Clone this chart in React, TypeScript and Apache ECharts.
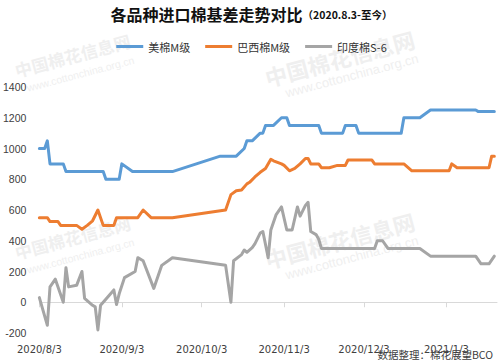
import React, { useEffect, useRef } from 'react';
import * as echarts from 'echarts';

// ---- data ----
const usDates = ['2020/8/3','2020/8/5','2020/8/6','2020/8/7','2020/8/12','2020/8/13','2020/8/27','2020/8/28','2020/9/2','2020/9/3','2020/9/7','2020/9/22','2020/10/10','2020/10/16','2020/10/19','2020/10/20','2020/10/22','2020/10/25','2020/10/26','2020/10/27','2020/10/30','2020/11/2','2020/11/4','2020/11/5','2020/11/16','2020/11/17','2020/11/25','2020/11/26','2020/11/30','2020/12/1','2020/12/17','2020/12/18','2020/12/24','2020/12/28','2021/1/14','2021/1/15','2021/1/21'];
const usValues = [1000,1000,1050,900,900,850,850,800,800,900,850,850,950,950,1000,1050,1050,1100,1100,1150,1150,1200,1200,1150,1150,1100,1100,1150,1150,1100,1100,1200,1200,1250,1250,1240,1240];

const brDates = ['2020/8/3','2020/8/6','2020/8/7','2020/8/10','2020/8/11','2020/8/17','2020/8/19','2020/8/21','2020/8/23','2020/8/25','2020/8/27','2020/8/31','2020/9/1','2020/9/9','2020/9/11','2020/9/14','2020/9/22','2020/10/12','2020/10/14','2020/10/16','2020/10/18','2020/10/20','2020/10/21','2020/10/23','2020/10/25','2020/10/27','2020/10/29','2020/10/30','2020/11/2','2020/11/3','2020/11/5','2020/11/7','2020/11/9','2020/11/11','2020/11/12','2020/11/13','2020/11/16','2020/11/17','2020/11/20','2020/11/23','2020/11/26','2020/11/27','2020/12/6','2020/12/7','2020/12/18','2020/12/21','2021/1/4','2021/1/5','2021/1/7','2021/1/19','2021/1/20','2021/1/21'];
const brValues = [550,550,525,525,500,500,475,500,530,600,500,500,550,550,600,550,550,600,700,725,730,770,780,815,845,870,930,920,900,890,855,870,900,935,935,900,900,875,875,890,890,925,925,900,900,855,855,900,875,875,950,950];

const inDates = ['2020/8/3','2020/8/6','2020/8/7','2020/8/9','2020/8/12','2020/8/13','2020/8/14','2020/8/17','2020/8/19','2020/8/20','2020/8/23','2020/8/24','2020/8/25','2020/8/26','2020/8/27','2020/8/31','2020/9/1','2020/9/2','2020/9/4','2020/9/8','2020/9/9','2020/9/11','2020/9/15','2020/9/18','2020/9/22','2020/10/12','2020/10/14','2020/10/15','2020/10/18','2020/10/19','2020/10/20','2020/10/22','2020/10/23','2020/10/25','2020/10/26','2020/10/28','2020/10/29','2020/10/31','2020/11/2','2020/11/4','2020/11/6','2020/11/8','2020/11/9','2020/11/11','2020/11/12','2020/11/13','2020/11/15','2020/11/16','2020/11/17','2020/12/7','2020/12/8','2020/12/10','2020/12/12','2020/12/24','2020/12/28','2021/1/14','2021/1/16','2021/1/19','2021/1/21'];
const inValues = [30,-150,100,150,0,225,100,110,200,25,-20,-30,-180,-20,0,80,-15,55,160,200,290,270,90,240,290,240,0,270,310,340,325,355,380,450,460,290,470,570,620,470,470,620,560,630,650,460,440,410,350,350,400,400,350,350,300,300,250,250,300];

const seriesNames = ['美棉M级', '巴西棉M级', '印度棉S-6'];
const seriesColors = ['#5B9BD5', '#ED7D31', '#A5A5A5'];
const axisStart = '2020/8/3';
const axisEnd = '2021/1/22';
const yMin = -200;
const yMax = 1400;
const yStep = 200;

function fmt(d: Date) {
  return `${d.getFullYear()}/${d.getMonth() + 1}/${d.getDate()}`;
}
function buildCategories(start: string, end: string) {
  const [sy, sm, sd] = start.split('/').map(Number);
  const [ey, em, ed] = end.split('/').map(Number);
  const cur = new Date(sy, sm - 1, sd);
  const last = new Date(ey, em - 1, ed);
  const out: string[] = [];
  while (cur <= last) {
    out.push(fmt(cur));
    cur.setDate(cur.getDate() + 1);
  }
  return out;
}
const pairs = (ds: string[], vs: number[]) => ds.map((d, i) => [d, vs[i]]);

// watermark anchors (right end of the faint site name)
const wmSpots = [
  [130, 40, 17], [414, 38, 22], [130, 222, 17], [414, 220, 22],
];

export default function App() {
  const ref = useRef<HTMLDivElement>(null);
  useEffect(() => {
    document.body.style.margin = '0';
    if (!ref.current) return;
    const chart = echarts.init(ref.current, undefined, { renderer: 'svg' });
    const categories = buildCategories(axisStart, axisEnd);
    const isThird = (_i: number, v: string) => /\/3$/.test(v);
    const graphics: any[] = [];
    wmSpots.forEach(([x, y, fs]) => {
      graphics.push({
        type: 'text', x, y, rotation: 0.26, z: -10, silent: true,
        style: { text: '中国棉花信息网', textAlign: 'right', textVerticalAlign: 'middle', fontSize: fs, fontWeight: 'bold', fontFamily: 'Noto Sans CJK SC', fill: '#efefef' },
      });
      graphics.push({
        type: 'text', x: x + 4, y: y + 20, rotation: 0.26, z: -10, silent: true,
        style: { text: 'www.cottonchina.org.cn', textAlign: 'right', textVerticalAlign: 'middle', fontSize: fs === 22 ? 13 : 10.5, fontFamily: 'Liberation Sans', fill: '#efefef' },
      });
    });
    graphics.push({
      type: 'text', x: 493, y: 354, z: 10,
      style: { text: '数据整理：棉花展望BCO', textAlign: 'right', textVerticalAlign: 'middle', fontSize: 10.5, fontFamily: 'Noto Sans CJK SC', fill: '#404040' },
    });
    chart.setOption({
      animation: false,
      backgroundColor: '#ffffff',
      title: {
        text: '{a|各品种进口棉基差走势对比}{b|（2020.8.3-至今）}',
        left: 'center', top: 6, padding: 0,
        textStyle: {
          rich: {
            a: { fontSize: 16, fontWeight: 'bold', fontFamily: 'Noto Sans CJK SC', color: '#111' },
            b: { fontSize: 10.5, fontWeight: 'bold', fontFamily: 'Noto Sans CJK SC', color: '#111' },
          },
        },
      },
      legend: {
        data: seriesNames, top: 41, left: 'center', padding: 0,
        icon: 'rect', itemWidth: 27, itemHeight: 3, itemGap: 15,
        textStyle: { fontSize: 11, fontFamily: 'Noto Sans CJK SC', color: '#333' },
      },
      graphic: graphics,
      grid: { left: 38, right: 6, top: 87, bottom: 29, containLabel: false },
      xAxis: {
        type: 'category', data: categories, boundaryGap: false,
        axisLine: { onZero: true, lineStyle: { color: '#d9d9d9', width: 1 } },
        axisTick: { show: true, interval: isThird, length: 5, lineStyle: { color: '#d9d9d9' } },
        axisLabel: { interval: isThird, fontSize: 10, fontFamily: 'DejaVu Sans', color: '#404040', margin: 11 },
        splitLine: { show: false },
      },
      yAxis: {
        type: 'value', min: yMin, max: yMax, interval: yStep,
        axisLine: { show: false }, axisTick: { show: false }, splitLine: { show: false },
        axisLabel: { fontSize: 10.5, fontFamily: 'Liberation Sans', color: '#404040', margin: 13, formatter: (v: number) => String(v) },
      },
      series: [
        { name: seriesNames[0], data: pairs(usDates, usValues) },
        { name: seriesNames[1], data: pairs(brDates, brValues) },
        { name: seriesNames[2], data: pairs(inDates, inValues) },
      ].map((s, i) => ({
        ...s, type: 'line', showSymbol: false, symbol: 'none',
        color: seriesColors[i],
        lineStyle: { width: 3, color: seriesColors[i], cap: 'round', join: 'round' },
      })),
    });
    return () => chart.dispose();
  }, []);
  return <div ref={ref} style={{ width: 503, height: 362 }} />;
}
